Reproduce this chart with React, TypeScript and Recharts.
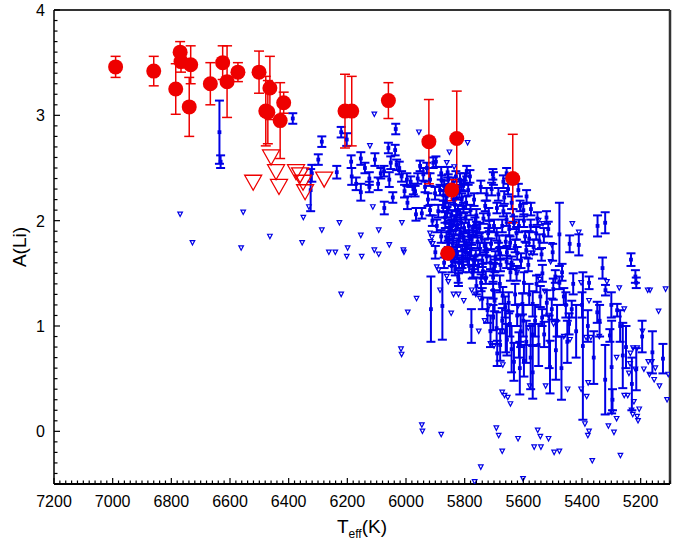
import React from 'react';
import { ScatterChart, Scatter, XAxis, YAxis, ErrorBar, ReferenceLine } from 'recharts';

// [Teff, A(Li), error]
const redDetections: number[][] = [
  [6990, 3.46, 0.10], [6860, 3.42, 0.14], [6770, 3.60, 0.10], [6767, 3.51, 0.10],
  [6734, 3.48, 0.18], [6785, 3.25, 0.24], [6739, 3.08, 0.28], [6667, 3.30, 0.20],
  [6625, 3.50, 0.16], [6610, 3.32, 0.34], [6573, 3.41, 0.09], [6501, 3.41, 0.20],
  [6464, 3.26, 0.30], [6478, 3.04, 0.33], [6471, 3.03, 0.30], [6417, 3.12, 0.10],
  [6429, 2.95, 0.36], [6208, 3.04, 0.35], [6185, 3.04, 0.33], [6060, 3.14, 0.17],
  [5922, 2.75, 0.40], [5827, 2.78, 0.45], [5636, 2.40, 0.42], [5858, 1.69, 0.04],
  [5844, 2.29, 0.10],
];

// [Teff, upper limit A(Li)]
const redLimits: number[][] = [
  [6521, 2.36], [6460, 2.60], [6443, 2.46], [6433, 2.32], [6375, 2.46],
  [6361, 2.43], [6351, 2.36], [6344, 2.27], [6279, 2.39],
];

const blueDetections: number[][] = [
  [6636, 2.84, 0.30], [6632, 2.56, 0.06], [6386, 2.97, 0.05], [6287, 2.75, 0.05],
  [6299, 2.58, 0.05], [6321, 2.45, 0.08], [6325, 2.29, 0.20], [6236, 2.46, 0.06],
  [6221, 2.84, 0.05], [6202, 2.77, 0.06], [6035, 2.87, 0.05], [6187, 2.56, 0.06],
  [6185, 2.42, 0.08], [6154, 2.59, 0.06], [6154, 2.27, 0.08], [6125, 2.40, 0.06],
  [6125, 2.32, 0.05], [6106, 2.58, 0.06], [6086, 2.45, 0.05], [6074, 2.12, 0.06],
  [6060, 2.69, 0.05], [6052, 2.55, 0.06], [6037, 2.67, 0.05], [6057, 2.39, 0.07],
  [6032, 2.53, 0.05], [6023, 2.50, 0.06], [6015, 2.42, 0.05], [5995, 2.17, 0.06],
  [5984, 2.37, 0.05], [5966, 2.06, 0.06], [5952, 2.52, 0.05], [5941, 2.44, 0.06],
  [5929, 2.50, 0.05], [5918, 2.39, 0.06], [5907, 2.55, 0.05], [5901, 2.26, 0.06],
  [5898, 2.56, 0.05], [5884, 2.29, 0.05], [5890, 2.09, 0.06], [5873, 2.14, 0.05],
  [5856, 2.39, 0.05], [5861, 2.23, 0.06], [5839, 2.36, 0.05], [5827, 2.26, 0.06],
  [5829, 2.04, 0.05], [5816, 2.39, 0.06], [5805, 2.33, 0.05], [5795, 2.17, 0.06],
  [5799, 2.40, 0.05], [5782, 2.42, 0.06], [5850, 1.95, 0.05], [5839, 1.85, 0.06],
  [5827, 1.76, 0.05], [5844, 1.57, 0.06], [5805, 1.57, 0.06], [5822, 1.47, 0.06],
  [5702, 2.40, 0.06], [5704, 2.44, 0.05], [5668, 2.37, 0.06], [5657, 2.45, 0.05],
  [5725, 2.25, 0.06], [5730, 2.14, 0.05], [5685, 2.25, 0.06], [5640, 2.17, 0.06],
  [5611, 2.14, 0.05], [5600, 2.10, 0.06], [5657, 2.01, 0.06], [5716, 1.95, 0.05],
  [5691, 1.87, 0.06], [5623, 1.88, 0.06], [5594, 1.85, 0.05], [5645, 1.79, 0.06],
  [5765, 1.98, 0.05], [5759, 1.90, 0.06], [5776, 1.82, 0.05], [5748, 1.73, 0.06],
  [5782, 1.69, 0.05], [5725, 1.66, 0.06], [5679, 1.69, 0.06], [5657, 1.61, 0.06],
  [5702, 1.54, 0.06], [5770, 1.52, 0.06], [5623, 1.50, 0.07], [5583, 1.58, 0.06],
  [5918, 2.10, 0.05], [5867, 2.03, 0.05], [5895, 1.95, 0.06], [5856, 1.76, 0.05],
  [5805, 1.85, 0.05], [5793, 1.76, 0.06], [5807, 1.66, 0.05], [5969, 2.28, 0.05],
  [5997, 2.39, 0.06], [5946, 2.07, 0.05], [6075, 2.47, 0.05], [5793, 2.47, 0.05],
  [5617, 2.29, 0.06], [5589, 2.23, 0.06],
  [5915, 1.16, 0.31], [5876, 1.19, 0.32], [5777, 1.00, 0.16], [5477, 1.87, 0.30],
  [5347, 1.95, 0.10], [5321, 1.98, 0.10], [5233, 1.63, 0.06], [5218, 1.47, 0.06],
  [5215, 1.41, 0.05], [5124, 0.69, 0.14], [5261, 0.72, 0.31], [5296, 0.30, 0.10],
  [5321, 0.49, 0.33], [5280, 1.15, 0.06], [5305, 0.91, 0.06], [5320, 1.34, 0.05],
  [5348, 1.13, 0.10], [5376, 1.41, 0.06], [5397, 0.81, 0.70], [5435, 1.16, 0.08],
  [5477, 1.41, 0.06], [5468, 1.51, 0.08], [5491, 1.47, 0.06], [5462, 1.28, 0.08],
  [5503, 1.16, 0.10], [5536, 1.08, 0.08], [5489, 0.77, 0.28], [5444, 1.02, 0.10],
  [5529, 0.92, 0.12], [5568, 0.92, 0.10], [5509, 0.61, 0.25], [5568, 0.56, 0.25],
  [5598, 0.67, 0.15], [5615, 0.82, 0.12], [5609, 0.95, 0.15], [5621, 1.10, 0.10],
  [5646, 1.02, 0.12], [5670, 1.29, 0.08], [5662, 1.18, 0.10], [5679, 0.82, 0.15],
  [5689, 0.74, 0.12], [5632, 0.66, 0.18], [5703, 1.34, 0.08], [5703, 1.46, 0.06],
  [5697, 1.57, 0.06], [5744, 1.41, 0.08], [5774, 1.51, 0.06], [5768, 1.60, 0.06],
  [5809, 1.60, 0.05], [5726, 1.73, 0.06], [5685, 1.73, 0.06], [5656, 1.70, 0.06],
  [5621, 1.69, 0.06], [5580, 1.83, 0.07], [5556, 1.88, 0.06], [5521, 2.03, 0.06],
  [5574, 2.11, 0.06], [5668, 2.09, 0.05], [5632, 1.98, 0.06], [5442, 1.78, 0.08],
  [5411, 1.77, 0.10], [5644, 1.51, 0.08], [5598, 1.41, 0.10], [5568, 1.21, 0.12],
  [5603, 1.21, 0.10], [5542, 1.28, 0.10], [5856, 1.80, 0.05], [5844, 1.96, 0.05],
  [5815, 2.06, 0.05], [5785, 1.85, 0.06], [5756, 1.80, 0.06], [5797, 1.70, 0.06],
  [5785, 1.57, 0.06], [5832, 1.54, 0.06], [5821, 1.44, 0.06], [5738, 1.52, 0.07],
  [5703, 1.08, 0.12], [5691, 0.98, 0.15], [5656, 0.87, 0.15], [5299, 0.61, 0.44],
  [5215, 0.59, 0.20],
  [5880, 2.45, 0.06], [5870, 2.33, 0.05], [5865, 2.18, 0.06], [5860, 2.08, 0.05],
  [5852, 1.88, 0.06], [5848, 1.70, 0.05], [5842, 1.63, 0.06], [5836, 2.00, 0.05],
  [5833, 2.15, 0.06], [5831, 1.91, 0.05], [5826, 1.69, 0.06], [5820, 1.82, 0.05],
  [5818, 2.28, 0.06], [5812, 1.98, 0.05], [5810, 2.20, 0.06], [5802, 1.93, 0.05],
  [5800, 1.79, 0.06], [5797, 2.03, 0.05], [5790, 1.64, 0.06], [5788, 2.29, 0.05],
  [5786, 1.95, 0.06], [5780, 2.10, 0.05], [5778, 1.73, 0.06], [5771, 1.90, 0.05],
  [5768, 2.20, 0.06], [5762, 1.67, 0.05], [5760, 2.05, 0.06], [5754, 1.57, 0.06],
  [5750, 1.93, 0.05], [5745, 2.32, 0.06], [5742, 1.84, 0.05], [5740, 1.62, 0.06],
  [5736, 2.02, 0.05], [5732, 1.76, 0.06], [5728, 1.46, 0.06], [5720, 1.88, 0.05],
  [5718, 2.06, 0.06], [5712, 1.60, 0.06], [5710, 1.78, 0.05], [5708, 2.30, 0.06],
  [5700, 1.95, 0.06], [5695, 1.65, 0.06], [5690, 2.12, 0.05], [5682, 1.80, 0.06],
  [5678, 1.58, 0.06], [5672, 1.95, 0.06], [5665, 2.22, 0.06], [5660, 1.80, 0.06],
  [5652, 2.30, 0.05], [5648, 1.92, 0.06], [5640, 1.60, 0.06], [5635, 2.05, 0.06],
  [5628, 1.76, 0.06], [5615, 1.95, 0.06], [5608, 1.62, 0.07], [5598, 2.00, 0.06],
  [5590, 1.72, 0.07], [5575, 1.95, 0.06], [5565, 1.75, 0.07], [5552, 2.02, 0.06],
  [5545, 1.80, 0.07], [5538, 1.68, 0.06], [5530, 1.86, 0.07], [5515, 1.92, 0.07],
  [5500, 1.70, 0.08],
  [5760, 1.38, 0.08], [5740, 1.26, 0.10], [5722, 1.15, 0.12], [5712, 0.95, 0.15],
  [5698, 1.24, 0.10], [5680, 1.40, 0.08], [5672, 1.05, 0.12], [5660, 0.95, 0.20],
  [5650, 1.22, 0.10], [5640, 0.78, 0.22], [5628, 1.30, 0.10], [5612, 0.60, 0.25],
  [5600, 1.05, 0.15], [5590, 0.85, 0.20], [5580, 1.30, 0.10], [5575, 0.70, 0.30],
  [5560, 1.05, 0.15], [5555, 1.40, 0.08], [5548, 0.82, 0.20], [5535, 1.50, 0.08],
  [5520, 1.22, 0.12], [5512, 0.85, 0.25], [5498, 1.35, 0.10], [5485, 1.05, 0.15],
  [5470, 0.60, 0.30], [5455, 1.20, 0.12], [5450, 0.85, 0.20], [5430, 1.40, 0.10],
  [5420, 0.95, 0.25], [5400, 1.20, 0.12], [5380, 1.00, 0.15], [5360, 0.70, 0.25],
  [5340, 1.05, 0.15], [5330, 1.55, 0.10], [5300, 1.20, 0.12], [5270, 1.00, 0.15],
  [5250, 0.80, 0.20], [5230, 0.45, 0.25], [5195, 0.90, 0.15], [5160, 0.75, 0.20],
  [5960, 2.40, 0.05], [5975, 2.30, 0.05], [6005, 2.28, 0.06], [6045, 2.22, 0.05],
  [6095, 2.35, 0.06], [6140, 2.50, 0.05], [6170, 2.35, 0.06], [5935, 2.32, 0.05],
  [5925, 2.20, 0.06], [5910, 2.00, 0.05], [5880, 1.85, 0.06], [5900, 1.70, 0.06],
  [5870, 1.60, 0.05],
  [5878, 2.38, 0.05], [5872, 2.24, 0.05], [5866, 1.98, 0.05], [5862, 1.84, 0.05],
  [5858, 2.46, 0.05], [5855, 2.12, 0.05], [5851, 2.30, 0.05], [5847, 1.92, 0.05],
  [5845, 2.05, 0.05], [5841, 1.78, 0.05], [5837, 2.20, 0.05], [5835, 1.66, 0.05],
  [5830, 2.42, 0.05], [5825, 1.96, 0.05], [5823, 2.10, 0.05], [5819, 1.60, 0.05],
  [5815, 1.88, 0.05], [5812, 2.34, 0.05], [5808, 1.72, 0.05], [5804, 2.12, 0.05],
];

const blueLimits: number[][] = [
  [6770, 2.06], [6728, 1.79], [6555, 2.08], [6562, 1.74], [6464, 1.85], [6350, 2.03],
  [6354, 1.79], [6331, 2.13], [6287, 1.91], [6227, 1.98], [6263, 1.70], [6241, 1.70],
  [6202, 1.66], [6199, 1.74], [6221, 1.30], [6017, 0.78], [6108, 3.01], [6185, 3.02],
  [5956, 2.84], [5790, 2.74], [6123, 2.71], [5852, 2.65], [5861, 2.55], [5836, 2.51],
  [6113, 2.13], [6154, 1.86], [6093, 1.91], [6014, 1.98], [6057, 1.77], [6108, 1.72],
  [6093, 1.68], [6009, 1.72], [6151, 1.66], [5918, 1.88], [5916, 1.80], [5895, 1.56],
  [5861, 1.47], [6007, 1.70], [5889, 1.53], [5856, 1.42], [5884, 1.34], [5964, 1.26],
  [5838, 1.30], [5821, 1.30], [5803, 1.24], [5994, 1.13], [5846, 1.12], [5752, 0.95],
  [6015, 0.73], [5712, 0.83], [5700, 0.81], [5670, 0.63], [5664, 0.34], [5644, 0.26],
  [5944, 0.00], [5684, -0.04], [5542, -0.05], [5376, 0.00], [5291, -0.01], [5433, 1.97],
  [5411, 1.89], [5503, 1.77], [5507, 1.61], [5403, 1.41], [5315, 1.42], [5176, 1.34],
  [5168, 1.34], [5115, 1.35], [5273, 1.36], [5376, 1.24], [5256, 1.16], [5139, 1.14],
  [5194, 0.95], [5212, 0.79], [5226, 0.79], [5386, 0.89], [5370, 0.89], [5341, 0.90],
  [5235, 0.74], [5174, 0.66], [5162, 0.66], [5150, 0.60], [5218, 0.59], [5170, 0.54],
  [5136, 0.43], [5379, 0.46], [5403, 0.40], [5282, 0.70], [5256, 0.34], [5244, 0.34],
  [5205, 0.21], [5212, 0.14], [5209, 0.10], [5282, 0.12], [5946, 0.06], [5880, -0.03],
  [5745, -0.34], [5766, -0.48], [5672, 0.37], [5653, 0.32], [5692, 0.03], [5672, -0.19],
  [5618, -0.07], [5601, -0.45], [5551, 0.01], [5563, -0.15], [5540, -0.15], [5514, -0.07],
  [5495, -0.20], [5477, -0.19], [5390, 0.07], [5380, -0.04], [5365, -0.28], [5310, 0.05],
  [5269, -0.23], [5223, 0.28], [5231, 0.20], [5227, 0.16], [5298, 0.18], [5384, 0.33],
  [5449, 0.40], [5154, 0.49], [5106, 0.54], [5240, 0.55], [5236, 0.64], [5189, 0.59],
  [5912, 1.84], [5909, 1.78], [5776, 1.34], [5762, 1.30], [5748, 1.26], [5717, 1.19],
  [5732, 1.05], [5729, 1.44], [5580, 1.69], [5568, 1.69], [5550, 1.47], [5544, 1.44],
  [5527, 1.33], [5515, 1.10], [5497, 1.02], [5462, 0.90], [5441, 0.87], [5548, 2.00],
  [5533, 1.97], [5630, 1.55], [5621, 1.51], [5618, 1.19], [5583, 0.98], [5524, 0.43],
  [5578, 0.43], [5110, 0.30],
];

const xMajorTicks = [7200, 7000, 6800, 6600, 6400, 6200, 6000, 5800, 5600, 5400, 5200];
const yMajorTicks = [0, 1, 2, 3, 4];

const RED = '#ee0000';
const BLUE = '#0000e6';
const FONT = '"Liberation Sans", Arial, sans-serif';

const toPoints = (rows: number[][]) => rows.map(([t, a, e]) => ({ t, a, e: e ?? 0 }));

// minor ticks every 20 K and every 0.1 dex
const xTicks: number[] = [];
for (let i = 5100; i <= 7200; i += 20) xTicks.push(i);
const yTicks: number[] = [];
for (let i = -5; i <= 40; i++) yTicks.push(i / 10);

const XTick = (props: any) => {
  const { x, y, payload } = props;
  const major = xMajorTicks.includes(payload.value);
  return (
    <g>
      <line x1={x} x2={x} y1={y} y2={y - (major ? 6 : 3.5)} stroke="#000" strokeWidth={1.2} />
      {major && (
        <text x={x} y={y + 23} textAnchor="middle" fontSize={16} fontFamily={FONT} fill="#000">
          {payload.value}
        </text>
      )}
    </g>
  );
};

const YTick = (props: any) => {
  const { x, y, payload } = props;
  const major = yMajorTicks.includes(payload.value);
  return (
    <g>
      <line x1={x} x2={x + (major ? 6 : 3.5)} y1={y} y2={y} stroke="#000" strokeWidth={1.2} />
      {major && (
        <text x={x - 9} y={y + 6} textAnchor="end" fontSize={16} fontFamily={FONT} fill="#000">
          {payload.value}
        </text>
      )}
    </g>
  );
};

const RedDot = (p: any) => <circle cx={p.cx} cy={p.cy} r={7.5} fill={RED} />;

const RedTriangle = (p: any) => (
  <polygon
    points={`${p.cx - 8.5},${p.cy - 7.5} ${p.cx + 8.5},${p.cy - 7.5} ${p.cx},${p.cy + 7.5}`}
    fill="none"
    stroke={RED}
    strokeWidth={1.3}
  />
);

const BlueSquare = (p: any) => <rect x={p.cx - 1.9} y={p.cy - 1.9} width={3.8} height={3.8} fill={BLUE} />;

const BlueTriangle = (p: any) => (
  <polygon
    points={`${p.cx - 2.3},${p.cy - 2.2} ${p.cx + 2.3},${p.cy - 2.2} ${p.cx},${p.cy + 2.2}`}
    fill="none"
    stroke={BLUE}
    strokeWidth={1.2}
  />
);

export default function App() {
  return (
    <div style={{ width: 695, height: 542, position: 'relative' }}>
      <style>{'body{margin:0}'}</style>
      <ScatterChart width={695} height={542} margin={{ top: 10, right: 25, bottom: 0, left: 0 }}>
        <XAxis
          type="number"
          dataKey="t"
          domain={[5100, 7200]}
          allowDataOverflow
          reversed
          ticks={xTicks}
          interval={0}
          tickSize={0}
          tickMargin={0}
          tickLine={false}
          tick={<XTick />}
          height={58}
          axisLine={{ stroke: '#000', strokeWidth: 2 }}
        />
        <YAxis
          type="number"
          dataKey="a"
          domain={[-0.5, 4]}
          allowDataOverflow
          ticks={yTicks}
          interval={0}
          tickSize={0}
          tickMargin={0}
          tickLine={false}
          tick={<YTick />}
          width={54}
          axisLine={{ stroke: '#000', strokeWidth: 1.5 }}
        />
        <ReferenceLine y={4} stroke="#333" strokeWidth={2} />
        <ReferenceLine x={5100} stroke="#333" strokeWidth={2.5} />
        <Scatter data={toPoints(blueLimits)} shape={BlueTriangle} isAnimationActive={false} />
        <Scatter data={toPoints(blueDetections)} shape={BlueSquare} isAnimationActive={false}>
          <ErrorBar dataKey="e" direction="y" width={4.5} stroke={BLUE} strokeWidth={2} isAnimationActive={false} />
        </Scatter>
        <Scatter data={toPoints(redLimits)} shape={RedTriangle} isAnimationActive={false} />
        <Scatter data={toPoints(redDetections)} shape={RedDot} isAnimationActive={false}>
          <ErrorBar dataKey="e" direction="y" width={5} stroke={RED} strokeWidth={1.5} isAnimationActive={false} />
        </Scatter>
      </ScatterChart>
      <div
        style={{
          position: 'absolute',
          left: 8,
          top: 247,
          transform: 'translate(-50%, -50%) rotate(-90deg)',
          transformOrigin: 'center',
          fontFamily: FONT,
          fontSize: 19,
          whiteSpace: 'nowrap',
          marginLeft: 12,
        }}
      >
        A(Li)
      </div>
      <div
        style={{
          position: 'absolute',
          left: 362,
          top: 516,
          transform: 'translateX(-50%)',
          fontFamily: FONT,
          fontSize: 19,
          whiteSpace: 'nowrap',
        }}
      >
        T<sub style={{ fontSize: 12 }}>eff</sub>(K)
      </div>
    </div>
  );
}
